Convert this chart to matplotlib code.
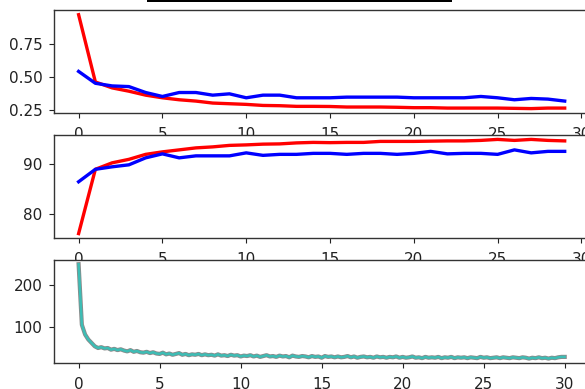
import numpy as np
import matplotlib
matplotlib.use("Agg")
import matplotlib.pyplot as plt
from matplotlib.patches import Rectangle

# ---- data ----
epochs = list(range(30))
train_loss = [0.97, 0.46, 0.415, 0.39, 0.36, 0.34, 0.325, 0.315, 0.30, 0.295,
              0.29, 0.282, 0.28, 0.275, 0.275, 0.274, 0.27, 0.27, 0.27, 0.268,
              0.265, 0.265, 0.262, 0.262, 0.262, 0.262, 0.26, 0.258, 0.262, 0.262]
val_loss = [0.54, 0.45, 0.43, 0.425, 0.38, 0.35, 0.38, 0.38, 0.36, 0.37,
            0.34, 0.36, 0.36, 0.34, 0.34, 0.34, 0.345, 0.345, 0.345, 0.345,
            0.34, 0.34, 0.34, 0.34, 0.35, 0.34, 0.325, 0.335, 0.33, 0.315]
train_acc = [76.1, 89.0, 90.3, 91.0, 92.0, 92.5, 92.9, 93.3, 93.5, 93.8,
             93.9, 94.05, 94.1, 94.3, 94.4, 94.35, 94.4, 94.4, 94.6, 94.6,
             94.6, 94.65, 94.7, 94.7, 94.8, 95.0, 94.8, 95.0, 94.8, 94.7]
val_acc = [86.5, 89.0, 89.5, 89.9, 91.3, 92.1, 91.3, 91.7, 91.7, 91.7,
           92.3, 91.8, 92.0, 92.0, 92.2, 92.2, 92.0, 92.2, 92.2, 92.0,
           92.2, 92.6, 92.1, 92.2, 92.2, 92.0, 92.9, 92.3, 92.6, 92.6]

iter_epoch = [i / 5 for i in range(151)]
iter_loss = [248, 105, 82, 70, 62, 54, 50, 52, 49, 50,
             46, 48, 45, 47, 44, 42, 45, 41, 43, 40,
             39, 41, 38, 40, 37, 36, 39, 35, 37, 34,
             36, 38, 34, 36, 33, 35, 34, 36, 33, 35,
             33, 34, 32, 35, 32, 33, 31, 34, 32, 33,
             30, 32, 31, 33, 30, 32, 29, 31, 33, 30,
             31, 29, 32, 30, 31, 28, 32, 30, 29, 31,
             30, 28, 31, 29, 30, 27, 31, 29, 30, 28,
             30, 28, 29, 31, 28, 30, 27, 29, 30, 28,
             29, 27, 30, 28, 29, 27, 29, 28, 30, 27,
             29, 27, 28, 30, 27, 28, 26, 29, 27, 28,
             27, 29, 26, 28, 27, 29, 26, 28, 27, 28,
             26, 28, 27, 26, 29, 27, 28, 26, 27, 28,
             26, 28, 27, 26, 28, 27, 26, 28, 27, 25,
             27, 26, 28, 26, 27, 25, 27, 26, 28, 29,
             29]

# ---- figure ----
fig = plt.figure(figsize=(5.85, 3.89), dpi=100)
W, H = 585.0, 389.0

def add_ax(top, bottom):
    left = 54.3 / W
    width = 534.7 / W
    return fig.add_axes([left, 1 - bottom / H, width, (bottom - top) / H])

ax1 = add_ax(10, 113.3)
ax2 = add_ax(134.7, 238.3)
ax3 = add_ax(259.5, 363.3)

ax1.plot(epochs, train_loss, color="red", lw=2.4)
ax1.plot(epochs, val_loss, color="blue", lw=2.4)
ax1.set_yticks([0.25, 0.50, 0.75])

ax2.plot(epochs, train_acc, color="red", lw=2.4)
ax2.plot(epochs, val_acc, color="blue", lw=2.4)
ax2.set_yticks([80, 90])

ax3.plot(iter_epoch, iter_loss, color="#8a8a8a", lw=3.0)
ax3.plot(iter_epoch, iter_loss, color="#3dbdb5", lw=1.8)
ax3.set_yticks([100, 200])

for ax in (ax1, ax2, ax3):
    ax.set_xticks([0, 5, 10, 15, 20, 25, 30])
    ax.tick_params(labelsize=11, colors="#222222")
    ax.tick_params(axis="x", pad=6.5)
    ax.tick_params(axis="y", pad=5)
    ax.set_facecolor("white")
    for s in ax.spines.values():
        s.set_color("#333333")
        s.set_linewidth(1.0)

# clipped title bar remnant at the top
fig.add_artist(Rectangle((147 / W, 1 - 2.2 / H), 304.5 / W, 2.2 / H,
                         transform=fig.transFigure, color="black", lw=0))

fig.savefig("out.png", dpi=100, facecolor="white")
